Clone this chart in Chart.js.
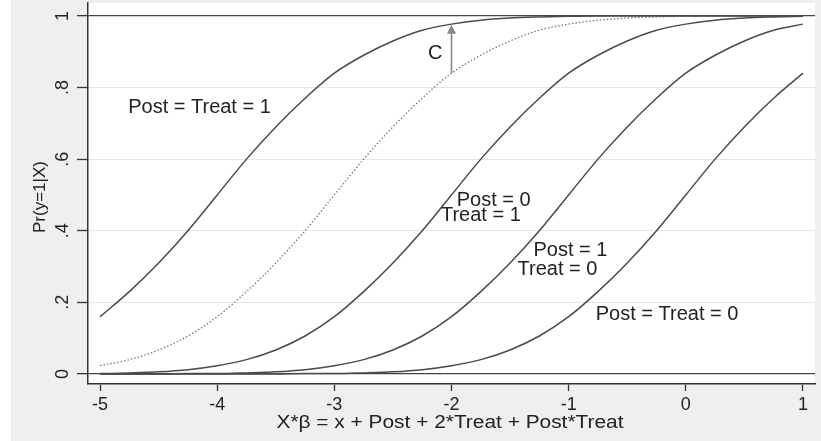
<!DOCTYPE html>
<html>
<head>
<meta charset="utf-8">
<script src="https://cdn.jsdelivr.net/npm/chart.js@4.4.0/dist/chart.umd.min.js"></script>
<style>
html, body { margin: 0; padding: 0; background: #fff; }
</style>
</head>
<body>
<canvas id="chart" width="821" height="441"></canvas>
<script>
const xValues = [-5, -4.75, -4.5, -4.25, -4, -3.75, -3.5, -3.25, -3, -2.75, -2.5, -2.25, -2,
                 -1.75, -1.5, -1.25, -1, -0.75, -0.5, -0.25, 0, 0.25, 0.5, 0.75, 1];

// Pr(y=1|X) for each group
const postTreat1 = [0.16, 0.23, 0.31, 0.40, 0.50, 0.60, 0.69, 0.77, 0.84, 0.89, 0.93, 0.96, 0.977,
                    0.988, 0.994, 0.997, 0.999, 1, 1, 1, 1, 1, 1, 1, 1];
const counterfactual = [0.023, 0.04, 0.067, 0.106, 0.16, 0.23, 0.31, 0.40, 0.50, 0.60, 0.69, 0.77, 0.84,
                        0.89, 0.93, 0.96, 0.977, 0.988, 0.994, 0.997, 0.999, 1, 1, 1, 1];
const post0Treat1 = [0.001, 0.003, 0.006, 0.012, 0.023, 0.04, 0.067, 0.106, 0.16, 0.23, 0.31, 0.40, 0.50,
                     0.60, 0.69, 0.77, 0.84, 0.89, 0.93, 0.96, 0.977, 0.988, 0.994, 0.997, 0.999];
const post1Treat0 = [0, 0, 0, 0.001, 0.001, 0.003, 0.006, 0.012, 0.023, 0.04, 0.067, 0.106, 0.16,
                     0.23, 0.31, 0.40, 0.50, 0.60, 0.69, 0.77, 0.84, 0.89, 0.93, 0.96, 0.977];
const postTreat0 = [0, 0, 0, 0, 0, 0, 0, 0.001, 0.001, 0.003, 0.006, 0.012, 0.023,
                    0.04, 0.067, 0.106, 0.16, 0.23, 0.31, 0.40, 0.50, 0.60, 0.69, 0.77, 0.84];

// axis ticks
const xTicks = [-5, -4, -3, -2, -1, 0, 1];
const yTicks = [0, 0.2, 0.4, 0.6, 0.8, 1];
const yTickLabels = ['0', '.2', '.4', '.6', '.8', '1'];

const xTitle = 'X*β = x + Post + 2*Treat + Post*Treat';
const yTitle = 'Pr(y=1|X)';

const FONT = '"Liberation Sans", Arial, Helvetica, sans-serif';
const INK = '#222';

function pts(ys) {
    return xValues.map((x, i) => ({ x: x, y: ys[i] }));
}

function curve(ys, color, dash) {
    return {
        data: pts(ys),
        borderColor: color,
        borderWidth: dash ? 1.3 : 1.5,
        borderDash: dash || [],
        pointRadius: 0,
        cubicInterpolationMode: 'monotone',
        fill: false
    };
}

// text labels, placed in data units
const notes = [
    { text: 'Post = Treat = 1', x: -4.76, y: 0.745 },
    { text: 'C', x: -2.2, y: 0.895 },
    { text: 'Post = 0', x: -1.955, y: 0.485 },
    { text: 'Treat = 1', x: -2.09, y: 0.443 },
    { text: 'Post = 1', x: -1.30, y: 0.345 },
    { text: 'Treat = 0', x: -1.436, y: 0.292 },
    { text: 'Post = Treat = 0', x: -0.769, y: 0.166 }
];

// draw text squeezed or stretched to a given width
function wideText(ctx, text, x, y, width) {
    const w = ctx.measureText(text).width;
    ctx.save();
    ctx.translate(x, y);
    ctx.scale(width / w, 1);
    ctx.fillText(text, 0, 0);
    ctx.restore();
}

const decor = {
    id: 'decor',
    beforeDraw(chart) {
        const { ctx, chartArea: a } = chart;
        ctx.save();
        ctx.fillStyle = '#efefef';
        ctx.fillRect(11, 0, chart.width - 11, chart.height);
        ctx.fillStyle = '#fff';
        ctx.fillRect(a.left, a.top, a.right - a.left, a.bottom - a.top);
        ctx.restore();
    },
    afterDraw(chart) {
        const { ctx, scales } = chart;
        const xs = scales.x, ys = scales.y;
        ctx.save();
        ctx.fillStyle = INK;

        // rotated y tick labels
        ctx.font = '18px ' + FONT;
        ctx.textAlign = 'center';
        ctx.textBaseline = 'middle';
        yTicks.forEach((v, i) => {
            ctx.save();
            ctx.translate(63, ys.getPixelForValue(v));
            ctx.rotate(-Math.PI / 2);
            ctx.fillText(yTickLabels[i], 0, 0);
            ctx.restore();
        });

        // y title
        ctx.font = '17px ' + FONT;
        ctx.save();
        ctx.translate(40, 197);
        ctx.rotate(-Math.PI / 2);
        ctx.fillText(yTitle, 0, 0);
        ctx.restore();

        // x title
        ctx.font = '17.5px ' + FONT;
        wideText(ctx, xTitle, 450, 423, 347);

        // curve labels
        ctx.font = '20px ' + FONT;
        ctx.textAlign = 'left';
        notes.forEach(n => {
            ctx.fillText(n.text, xs.getPixelForValue(n.x), ys.getPixelForValue(n.y));
        });

        // arrow C between the dotted and the top curve at x = -2
        const ax = xs.getPixelForValue(-2);
        const y0 = ys.getPixelForValue(0.84);
        const y1 = ys.getPixelForValue(0.975);
        ctx.strokeStyle = '#888';
        ctx.fillStyle = '#888';
        ctx.lineWidth = 1.6;
        ctx.beginPath();
        ctx.moveTo(ax, y0);
        ctx.lineTo(ax, y1 + 6);
        ctx.stroke();
        ctx.beginPath();
        ctx.moveTo(ax, y1);
        ctx.lineTo(ax - 4.5, y1 + 9);
        ctx.lineTo(ax + 4.5, y1 + 9);
        ctx.closePath();
        ctx.fill();
        ctx.restore();
    }
};

new Chart(document.getElementById('chart'), {
    type: 'line',
    data: {
        datasets: [
            curve(postTreat1, '#4a4a4a'),
            curve(counterfactual, '#777', [1.5, 2]),
            curve(post0Treat1, '#4a4a4a'),
            curve(post1Treat0, '#4a4a4a'),
            curve(postTreat0, '#4a4a4a')
        ]
    },
    options: {
        responsive: false,
        animation: false,
        layout: { padding: { top: 3, right: 6, left: 0, bottom: 0 } },
        plugins: {
            legend: { display: false },
            tooltip: { enabled: false }
        },
        scales: {
            x: {
                type: 'linear',
                min: -5.103,
                max: 1.103,
                afterBuildTicks: s => { s.ticks = xTicks.map(v => ({ value: v })); },
                afterFit: s => { s.height = 57; },
                grid: {
                    drawOnChartArea: false,
                    drawTicks: true,
                    tickLength: 7,
                    tickColor: '#333',
                    tickWidth: 1.3
                },
                border: { color: '#333', width: 1.5 },
                ticks: {
                    color: INK,
                    font: { family: FONT, size: 18 },
                    padding: 3,
                    maxRotation: 0,
                    autoSkip: false
                }
            },
            y: {
                type: 'linear',
                min: -0.028,
                max: 1.036,
                afterBuildTicks: s => { s.ticks = yTicks.map(v => ({ value: v })); },
                afterFit: s => { s.width = 88; },
                grid: {
                    color: c => (c.tick && (c.tick.value === 0 || c.tick.value === 1)) ? '#444' : '#e6e6e6',
                    lineWidth: c => (c.tick && (c.tick.value === 0 || c.tick.value === 1)) ? 1.3 : 1,
                    drawTicks: true,
                    tickLength: 11,
                    tickColor: '#333',
                    tickWidth: 1.3
                },
                border: { color: '#333', width: 1.5 },
                ticks: { display: false }
            }
        }
    },
    plugins: [decor]
});
</script>
</body>
</html>
